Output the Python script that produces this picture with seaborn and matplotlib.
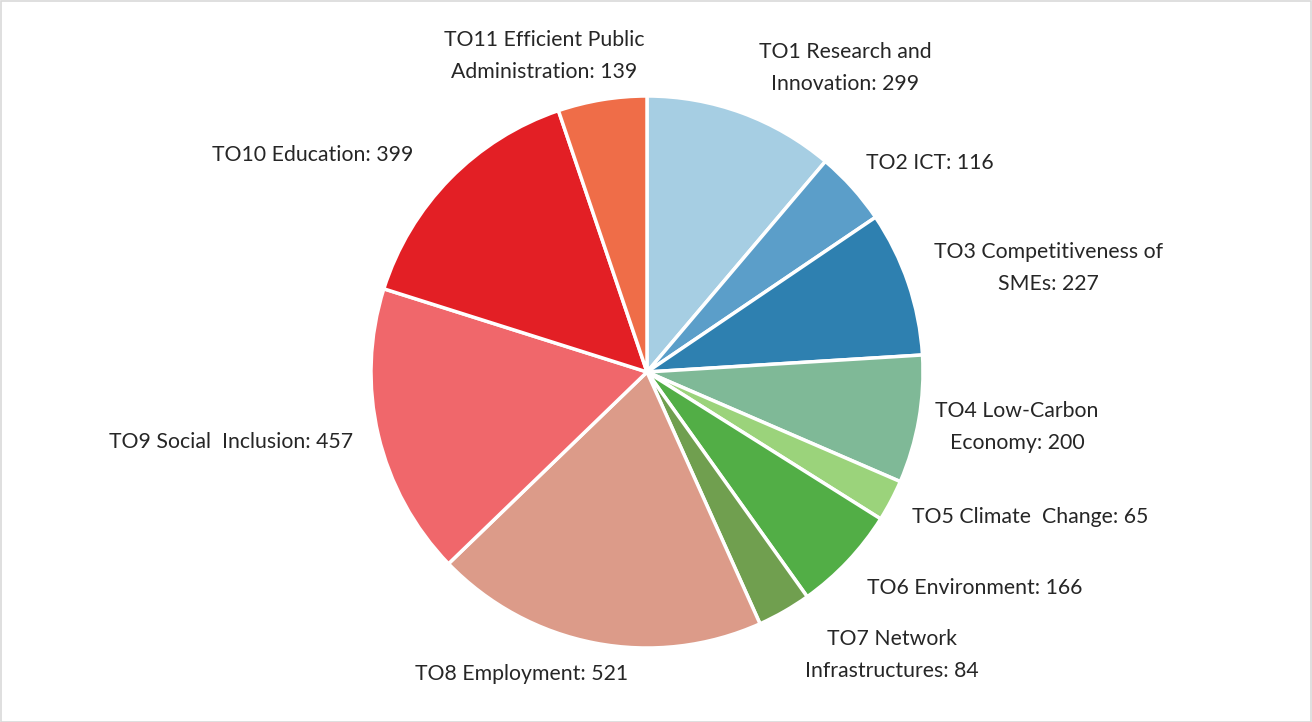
import matplotlib
matplotlib.use("Agg")
import matplotlib.pyplot as plt
import seaborn as sns

sns.set_theme(style="white")
plt.rcParams["font.family"] = ["Lato", "DejaVu Sans"]

labels = [
    "TO1 Research and\nInnovation",
    "TO2 ICT",
    "TO3 Competitiveness of\nSMEs",
    "TO4 Low-Carbon\nEconomy",
    "TO5 Climate  Change",
    "TO6 Environment",
    "TO7 Network\nInfrastructures",
    "TO8 Employment",
    "TO9 Social  Inclusion",
    "TO10 Education",
    "TO11 Efficient Public\nAdministration",
]
values = [299, 116, 227, 200, 65, 166, 84, 521, 457, 399, 139]
colors = [
    "#a6cee3", "#5b9ec9", "#2e80b0", "#7fb997", "#9bd37b", "#52ae46",
    "#709f4f", "#dc9b89", "#f0676b", "#e31f25", "#ef6d48",
]

# label centres in pixel coords (x from left, y from top)
label_xy = [
    (845, 68), (930, 163), (1048, 268), (1017, 427), (1030, 517),
    (975, 588), (892, 655), (522, 674), (231, 442), (313, 155), (544, 56),
]

W, H = 1312, 722
fig = plt.figure(figsize=(W / 100, H / 100), dpi=100)
ax = fig.add_axes([0, 0, 1, 1])

ax.pie(
    values,
    colors=colors,
    startangle=90,
    counterclock=False,
    center=(647, H - 372),
    radius=276,
    wedgeprops={"edgecolor": "white", "linewidth": 2.5},
    frame=True,
)
ax.set_xlim(0, W)
ax.set_ylim(0, H)
ax.set_aspect("equal")
ax.axis("off")

for lab, v, (x, y) in zip(labels, values, label_xy):
    ax.text(x, H - y, f"{lab}: {v}", ha="center", va="center",
            fontsize=15.3, color="#262626", linespacing=1.75)

fig.patches.append(plt.Rectangle((0.5 / W, 0.5 / H), 1 - 1.5 / W, 1 - 1.5 / H,
                                 transform=fig.transFigure, fill=False,
                                 edgecolor="#d9d9d9", linewidth=1.2))
fig.savefig("out.png", dpi=100)
